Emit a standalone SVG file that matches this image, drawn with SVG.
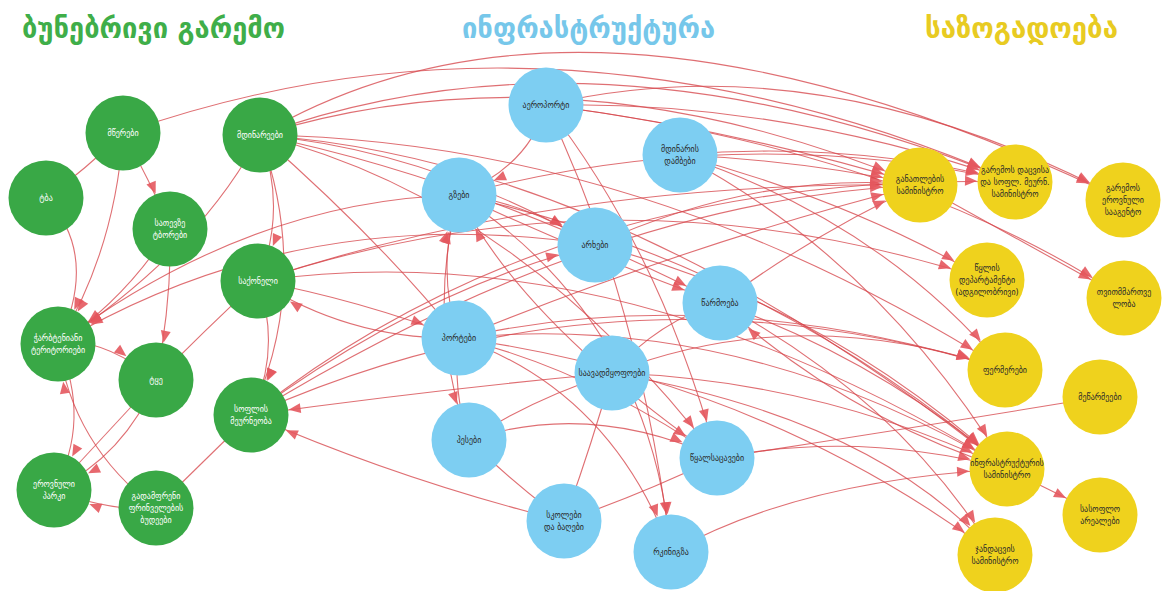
<svg xmlns="http://www.w3.org/2000/svg" width="1163" height="591" viewBox="0 0 1163 591">
<style>
.bg{fill:#ffffff}
.h{font-family:"DejaVu Sans",sans-serif;font-weight:bold;font-size:28px}
.e{fill:none;stroke:#d6474c;stroke-width:1.1;stroke-opacity:.78}
.a{marker-end:url(#ah)}
.gn circle{fill:#39a846}
.bn circle{fill:#7dcef2}
.yn circle{fill:#efd21d}
.t{font-family:"DejaVu Sans",sans-serif;font-size:8px;text-anchor:middle}
.gn text{fill:#ffffff}
.bn text,.yn text{fill:#2a2a2a}
</style>
<defs>
<marker id="ah" markerUnits="userSpaceOnUse" markerWidth="12" markerHeight="10" refX="50" refY="5" orient="auto" overflow="visible">
<path d="M0,0 L12,5 L0,10 z" fill="#e4585e" fill-opacity="0.9"/>
</marker>
</defs>
<rect class="bg" x="0" y="0" width="1163" height="591"/>

<g id="headings">
<text class="h" x="22" y="38" fill="#3fae49" textLength="263" lengthAdjust="spacingAndGlyphs">ბუნებრივი გარემო</text>
<text class="h" x="462" y="38" fill="#76c7ea" textLength="253" lengthAdjust="spacingAndGlyphs">ინფრასტრუქტურა</text>
<text class="h" x="925" y="38" fill="#e8cb22" textLength="193" lengthAdjust="spacingAndGlyphs">საზოგადოება</text>
</g>

<g id="connectors">
<path class="e" d="M46,198 Q85,170 123,133"/>
<path class="e a" d="M123,133 Q115,250 58,344"/>
<path class="e a" d="M46,198 Q100,255 58,344"/>
<path class="e a" d="M123,133 Q150,180 170,229"/>
<path class="e a" d="M170,229 Q125,300 58,344"/>
<path class="e a" d="M170,229 Q172,300 156,380"/>
<path class="e a" d="M260,135 Q288,210 258,281"/>
<path class="e a" d="M260,135 Q312,280 251,415"/>
<path class="e a" d="M260,135 Q200,250 58,344"/>
<path class="e a" d="M58,344 Q100,335 156,380"/>
<path class="e a" d="M58,344 Q92,420 54,490"/>
<path class="e a" d="M156,380 Q125,455 54,490"/>
<path class="e" d="M54,490 Q105,435 156,380"/>
<path class="e a" d="M156,508 Q72,445 58,344"/>
<path class="e a" d="M156,508 Q110,512 54,490"/>
<path class="e" d="M156,508 Q205,460 251,415"/>
<path class="e" d="M156,380 Q205,330 258,281"/>
<path class="e a" d="M258,281 Q282,350 251,415"/>

<path class="e a" d="M260,135 Q588,-58 1123,200"/>
<path class="e a" d="M123,133 Q551,-18 1015,182"/>
<path class="e a" d="M260,135 Q600,12 1015,182"/>
<path class="e a" d="M260,135 Q570,40 920,185"/>
<path class="e a" d="M260,135 Q480,180 720,303"/>
<path class="e a" d="M260,135 Q430,150 595,245"/>
<path class="e a" d="M260,135 Q520,200 717,458"/>
<path class="e a" d="M260,135 Q620,160 1007,469"/>
<path class="e a" d="M260,135 Q640,140 1005,370"/>
<path class="e" d="M260,135 Q380,240 459,338"/>
<path class="e a" d="M258,281 Q560,180 920,185"/>
<path class="e a" d="M258,281 Q620,230 1007,469"/>
<path class="e a" d="M258,281 Q360,300 459,338"/>
<path class="e a" d="M258,281 Q620,160 987,280"/>
<path class="e a" d="M251,415 Q560,170 1015,182"/>
<path class="e a" d="M251,415 Q420,290 595,245"/>
<path class="e a" d="M251,415 Q620,250 1005,370"/>
<path class="e a" d="M251,415 Q600,200 920,185"/>
<path class="e a" d="M612,373 Q430,390 251,415"/>
<path class="e a" d="M564,521 Q400,480 251,415"/>
<path class="e a" d="M459,195 Q250,200 58,344"/>
<path class="e a" d="M595,245 Q300,200 58,344"/>
<path class="e a" d="M459,338 Q350,340 258,281"/>

<path class="e a" d="M546,105 Q530,165 459,195"/>
<path class="e a" d="M546,105 Q660,250 717,458"/>
<path class="e a" d="M546,105 Q640,300 671,552"/>
<path class="e a" d="M459,338 Q435,270 459,195"/>
<path class="e a" d="M469,440 Q425,320 459,195"/>
<path class="e a" d="M717,458 Q520,320 459,195"/>
<path class="e a" d="M459,338 Q452,390 469,440"/>
<path class="e a" d="M459,338 Q590,370 717,458"/>
<path class="e a" d="M459,338 Q610,390 671,552"/>
<path class="e a" d="M459,195 Q650,320 671,552"/>
<path class="e" d="M469,440 Q530,400 612,373"/>
<path class="e a" d="M469,440 Q590,400 717,458"/>
<path class="e" d="M469,440 Q510,480 564,521"/>
<path class="e" d="M612,373 Q590,450 564,521"/>
<path class="e" d="M717,458 Q640,495 564,521"/>
<path class="e a" d="M671,552 Q800,480 1007,469"/>
<path class="e a" d="M459,195 Q520,200 595,245"/>
<path class="e a" d="M459,195 Q600,260 720,303"/>
<path class="e" d="M720,303 Q660,320 612,373"/>
<path class="e a" d="M595,245 Q760,170 920,185"/>
<path class="e a" d="M595,245 Q820,300 1007,469"/>
<path class="e a" d="M680,155 Q800,160 920,185"/>
<path class="e a" d="M680,155 Q850,140 1015,182"/>
<path class="e a" d="M680,155 Q880,220 1005,370"/>
<path class="e a" d="M680,155 Q880,260 1007,469"/>
<path class="e a" d="M680,155 Q850,200 987,280"/>
<path class="e a" d="M546,105 Q780,100 1015,182"/>
<path class="e a" d="M546,105 Q740,130 920,185"/>
<path class="e a" d="M546,105 Q900,150 1124,298"/>
<path class="e a" d="M546,105 Q820,40 1123,200"/>
<path class="e a" d="M720,303 Q820,230 920,185"/>
<path class="e a" d="M720,303 Q880,360 1007,469"/>
<path class="e a" d="M720,303 Q900,400 995,555"/>
<path class="e a" d="M612,373 Q820,380 1007,469"/>
<path class="e a" d="M612,373 Q800,300 1005,370"/>
<path class="e a" d="M717,458 Q860,430 1007,469"/>
<path class="e a" d="M612,373 Q880,420 995,555"/>
<path class="e a" d="M459,338 Q740,310 1007,469"/>
<path class="e a" d="M459,338 Q720,280 1005,370"/>
<path class="e a" d="M459,195 Q760,260 1007,469"/>
<path class="e a" d="M459,195 Q740,120 1015,182"/>
<path class="e a" d="M459,338 Q700,240 920,185"/>
<path class="e a" d="M1007,469 Q1050,490 1100,515"/>
<path class="e" d="M1100,397 Q900,430 717,458"/>
<path class="e a" d="M920,185 Q1020,240 1124,298"/>
<path class="e a" d="M1007,469 Q850,420 720,303"/>
<path class="e a" d="M459,338 Q760,380 995,555"/>
</g>

<g id="n-mwerebi" class="gn"><circle cx="123" cy="133" r="37.5"/><text class="t" x="123" y="136">მწერები</text></g>
<g id="n-tba" class="gn"><circle cx="46" cy="198" r="37.5"/><text class="t" x="46" y="201">ტბა</text></g>
<g id="n-mdinareebi" class="gn"><circle cx="260" cy="135" r="37.5"/><text class="t" x="260" y="138">მდინარეები</text></g>
<g id="n-satevze" class="gn"><circle cx="170" cy="229" r="37.5"/><text class="t" x="170" y="226">სათევზე</text><text class="t" x="170" y="238">ტბორები</text></g>
<g id="n-saqoneli" class="gn"><circle cx="258" cy="281" r="37.5"/><text class="t" x="258" y="284">საქონელი</text></g>
<g id="n-charbteniani" class="gn"><circle cx="58" cy="344" r="37.5"/><text class="t" x="58" y="341">ჭარბტენიანი</text><text class="t" x="58" y="353">ტერიტორიები</text></g>
<g id="n-tye" class="gn"><circle cx="156" cy="380" r="37.5"/><text class="t" x="156" y="383">ტყე</text></g>
<g id="n-soflis" class="gn"><circle cx="251" cy="415" r="37.5"/><text class="t" x="251" y="412">სოფლის</text><text class="t" x="251" y="424">მეურნეობა</text></g>
<g id="n-erovnuli" class="gn"><circle cx="54" cy="490" r="37.5"/><text class="t" x="54" y="487">ეროვნული</text><text class="t" x="54" y="499">პარკი</text></g>
<g id="n-gadamfreni" class="gn"><circle cx="156" cy="508" r="37.5"/><text class="t" x="156" y="499">გადამფრენი</text><text class="t" x="156" y="511">ფრინველების</text><text class="t" x="156" y="523">ბუდეები</text></g>

<g id="n-aeroporti" class="bn"><circle cx="546" cy="105" r="37.5"/><text class="t" x="546" y="108">აეროპორტი</text></g>
<g id="n-dambebi" class="bn"><circle cx="680" cy="155" r="37.5"/><text class="t" x="680" y="152">მდინარის</text><text class="t" x="680" y="164">დამბები</text></g>
<g id="n-gzebi" class="bn"><circle cx="459" cy="195" r="37.5"/><text class="t" x="459" y="198">გზები</text></g>
<g id="n-arxebi" class="bn"><circle cx="595" cy="245" r="37.5"/><text class="t" x="595" y="248">არხები</text></g>
<g id="n-warmoeba" class="bn"><circle cx="720" cy="303" r="37.5"/><text class="t" x="720" y="306">წარმოება</text></g>
<g id="n-portebi" class="bn"><circle cx="459" cy="338" r="37.5"/><text class="t" x="459" y="341">პორტები</text></g>
<g id="n-saavadmyofo" class="bn"><circle cx="612" cy="373" r="37.5"/><text class="t" x="612" y="376">საავადმყოფოები</text></g>
<g id="n-hesebi" class="bn"><circle cx="469" cy="440" r="37.5"/><text class="t" x="469" y="443">ჰესები</text></g>
<g id="n-wyalsacavebi" class="bn"><circle cx="717" cy="458" r="37.5"/><text class="t" x="717" y="461">წყალსაცავები</text></g>
<g id="n-skolebi" class="bn"><circle cx="564" cy="521" r="37.5"/><text class="t" x="564" y="518">სკოლები</text><text class="t" x="564" y="530">და ბაღები</text></g>
<g id="n-rkinigza" class="bn"><circle cx="671" cy="552" r="37.5"/><text class="t" x="671" y="555">რკინიგზა</text></g>

<g id="n-ganatleba" class="yn"><circle cx="920" cy="185" r="37.5"/><text class="t" x="920" y="182">განათლების</text><text class="t" x="920" y="194">სამინისტრო</text></g>
<g id="n-garemos-dacva" class="yn"><circle cx="1015" cy="182" r="37.5"/><text class="t" x="1015" y="173">გარემოს დაცვისა</text><text class="t" x="1015" y="185">და სოფლ. მეურნ.</text><text class="t" x="1015" y="197">სამინისტრო</text></g>
<g id="n-saagento" class="yn"><circle cx="1123" cy="200" r="37.5"/><text class="t" x="1123" y="191">გარემოს</text><text class="t" x="1123" y="203">ეროვნული</text><text class="t" x="1123" y="215">სააგენტო</text></g>
<g id="n-wylis-dep" class="yn"><circle cx="987" cy="280" r="37.5"/><text class="t" x="987" y="271">წყლის</text><text class="t" x="987" y="283">დეპარტამენტი</text><text class="t" x="987" y="295">(ადგილობრივი)</text></g>
<g id="n-tvitmmartveloba" class="yn"><circle cx="1124" cy="298" r="37.5"/><text class="t" x="1124" y="295">თვითმმართვე</text><text class="t" x="1124" y="307">ლობა</text></g>
<g id="n-fermerebi" class="yn"><circle cx="1005" cy="370" r="37.5"/><text class="t" x="1005" y="373">ფერმერები</text></g>
<g id="n-mewarmeebi" class="yn"><circle cx="1100" cy="397" r="37.5"/><text class="t" x="1100" y="400">მეწარმეები</text></g>
<g id="n-infra-min" class="yn"><circle cx="1007" cy="469" r="37.5"/><text class="t" x="1007" y="466">ინფრასტრუქტურის</text><text class="t" x="1007" y="478">სამინისტრო</text></g>
<g id="n-sasoflo" class="yn"><circle cx="1100" cy="515" r="37.5"/><text class="t" x="1100" y="512">სასოფლო</text><text class="t" x="1100" y="524">არეალები</text></g>
<g id="n-jandacva" class="yn"><circle cx="995" cy="555" r="37.5"/><text class="t" x="995" y="552">ჯანდაცვის</text><text class="t" x="995" y="564">სამინისტრო</text></g>
</svg>
